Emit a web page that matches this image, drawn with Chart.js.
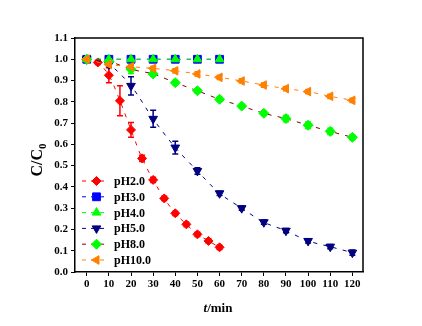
<!DOCTYPE html>
<html lang="en">
<head>
<meta charset="UTF-8">
<title>C/C0 vs time</title>
<script src="https://cdn.jsdelivr.net/npm/chart.js@4.4.0/dist/chart.umd.min.js"></script>
<style>
  html, body { margin: 0; padding: 0; background: #fff; }
  #wrap { width: 422px; height: 326px; }
</style>
</head>
<body>
<div id="wrap"><canvas id="chart" width="422" height="326"></canvas></div>
<script>
// data
var timeA = [0, 5, 10, 15, 20, 25, 30, 35, 40, 45, 50, 55, 60];
var timeB = [0, 10, 20, 30, 40, 50, 60];
var timeC = [0, 10, 20, 30, 40, 50, 60, 70, 80, 90, 100, 110, 120];

var ph2 = [1.0, 0.985, 0.925, 0.805, 0.668, 0.534, 0.433, 0.346, 0.276, 0.224, 0.177, 0.146, 0.116];
var ph2Err = [0.005, 0.01, 0.035, 0.07, 0.035, 0.015, 0.012, 0.01, 0.01, 0.01, 0.01, 0.01, 0.01];
var ph3 = [1.0, 1.0, 1.0, 1.0, 1.0, 1.0, 1.0];
var ph3Err = [0.005, 0.005, 0.005, 0.005, 0.005, 0.005, 0.005];
var ph4 = [1.0, 1.0, 1.0, 1.0, 1.0, 1.0, 1.0];
var ph4Err = [0.005, 0.005, 0.01, 0.005, 0.005, 0.005, 0.005];
var ph5 = [1.0, 0.975, 0.875, 0.72, 0.585, 0.475, 0.37, 0.30, 0.234, 0.194, 0.146, 0.119, 0.091];
var ph5Err = [0.005, 0.01, 0.043, 0.04, 0.03, 0.015, 0.01, 0.01, 0.01, 0.01, 0.01, 0.01, 0.012];
var ph8 = [1.0, 0.99, 0.953, 0.931, 0.89, 0.852, 0.812, 0.78, 0.746, 0.721, 0.69, 0.661, 0.633];
var ph8Err = [0.005, 0.01, 0.02, 0.01, 0.01, 0.01, 0.01, 0.01, 0.01, 0.015, 0.015, 0.015, 0.012];
var ph10 = [1.0, 0.976, 0.965, 0.957, 0.946, 0.931, 0.915, 0.898, 0.879, 0.862, 0.848, 0.826, 0.807];
var ph10Err = [0.005, 0.01, 0.01, 0.01, 0.01, 0.01, 0.01, 0.01, 0.01, 0.01, 0.01, 0.01, 0.01];

var seriesNames = ['pH2.0', 'pH3.0', 'pH4.0', 'pH5.0', 'pH8.0', 'pH10.0'];
var xTicks = [0, 10, 20, 30, 40, 50, 60, 70, 80, 90, 100, 110, 120];
var yTicks = [0, 0.1, 0.2, 0.3, 0.4, 0.5, 0.6, 0.7, 0.8, 0.9, 1.0, 1.1];

var FONT = "'Liberation Serif', 'Times New Roman', serif";

function pts(xs, ys) {
    var out = [];
    for (var i = 0; i < xs.length; i++) out.push({ x: xs[i], y: ys[i] });
    return out;
}

// [name, x, y, err, lineColor, markerColor, style, rotation, radius]
var defs = [
    [seriesNames[0], timeA, ph2, ph2Err, '#FF0000', '#FF0000', 'rectRot', 0, 4.5],
    [seriesNames[1], timeB, ph3, ph3Err, '#0000FF', '#0000FF', 'rect', 0, 5.5],
    [seriesNames[2], timeB, ph4, ph4Err, '#00FF00', '#00FF00', 'triangle', 0, 5],
    [seriesNames[3], timeC, ph5, ph5Err, '#000080', '#000080', 'triangle', 180, 5],
    [seriesNames[4], timeC, ph8, ph8Err, '#800000', '#00FF00', 'rectRot', 0, 5],
    [seriesNames[5], timeC, ph10, ph10Err, '#FF8000', '#FF8000', 'triangle', 270, 5]
];

var datasets = defs.map(function (d, i) {
    return {
        label: d[0],
        data: pts(d[1], d[2]),
        errors: d[3],
        borderColor: d[4],
        borderWidth: 1,
        borderDash: [4, 6],
        backgroundColor: d[5],
        pointBackgroundColor: d[5],
        pointBorderColor: d[5],
        pointBorderWidth: 1,
        pointStyle: d[6],
        pointRotation: d[7],
        pointRadius: d[8],
        tension: 0.3,
        order: 6 - i
    };
});

// error bars, frame, axis titles and legend
var extras = {
    id: 'extras',
    beforeDatasetsDraw: function (chart) {
        var ctx = chart.ctx, xs = chart.scales.x, ys = chart.scales.y;
        ctx.save();
        chart.data.datasets.forEach(function (ds) {
            ctx.strokeStyle = ds.pointBackgroundColor;
            ctx.lineWidth = 1.5;
            ds.data.forEach(function (p, j) {
                var e = ds.errors[j];
                var px = xs.getPixelForValue(p.x);
                var y1 = ys.getPixelForValue(p.y + e);
                var y2 = ys.getPixelForValue(p.y - e);
                ctx.beginPath();
                ctx.moveTo(px, y1); ctx.lineTo(px, y2);
                ctx.moveTo(px - 3, y1); ctx.lineTo(px + 3, y1);
                ctx.moveTo(px - 3, y2); ctx.lineTo(px + 3, y2);
                ctx.stroke();
            });
        });
        ctx.restore();
    },
    afterDraw: function (chart) {
        var ctx = chart.ctx, a = chart.chartArea;
        ctx.save();
        // top and right frame
        ctx.strokeStyle = '#000';
        ctx.lineWidth = 1.5;
        ctx.beginPath();
        ctx.moveTo(a.left, a.top); ctx.lineTo(a.right, a.top); ctx.lineTo(a.right, a.bottom);
        ctx.stroke();

        // y title C/C0
        ctx.fillStyle = '#000';
        ctx.translate(38, 160);
        ctx.rotate(-Math.PI / 2);
        ctx.font = 'bold 16px ' + FONT;
        ctx.textBaseline = 'middle';
        var w1 = ctx.measureText('C/C').width;
        ctx.font = 'bold 11px ' + FONT;
        var w2 = ctx.measureText('0').width;
        ctx.font = 'bold 16px ' + FONT;
        ctx.textAlign = 'left';
        ctx.fillText('C/C', -(w1 + w2) / 2, 0);
        ctx.font = 'bold 11px ' + FONT;
        ctx.fillText('0', -(w1 + w2) / 2 + w1, 5);
        ctx.setTransform(1, 0, 0, 1, 0, 0);

        // x title t/min
        ctx.textBaseline = 'middle';
        ctx.font = 'italic bold 13px ' + FONT;
        var wt = ctx.measureText('t').width;
        ctx.font = 'bold 13px ' + FONT;
        var wm = ctx.measureText('/min').width;
        var sx = 218 - (wt + wm) / 2;
        ctx.font = 'italic bold 13px ' + FONT;
        ctx.fillText('t', sx, 309);
        ctx.font = 'bold 13px ' + FONT;
        ctx.fillText('/min', sx + wt, 309);

        // legend
        var y0 = 181, step = 15.8;
        chart.data.datasets.forEach(function (ds, i) {
            var yy = y0 + i * step;
            ctx.strokeStyle = ds.borderColor;
            ctx.lineWidth = 1;
            ctx.setLineDash([4, 5]);
            ctx.beginPath();
            ctx.moveTo(82, yy); ctx.lineTo(106, yy);
            ctx.stroke();
            ctx.setLineDash([]);
            ctx.fillStyle = ds.pointBackgroundColor;
            ctx.strokeStyle = ds.pointBackgroundColor;
            Chart.helpers.drawPoint(ctx, {
                pointStyle: ds.pointStyle,
                rotation: ds.pointRotation,
                radius: ds.pointRadius,
                borderWidth: 1
            }, 96.5, yy);
            ctx.fillStyle = '#000';
            ctx.font = 'bold 12px ' + FONT;
            ctx.textAlign = 'left';
            ctx.fillText(ds.label, 114, yy + 1);
        });
        ctx.restore();
    }
};

new Chart(document.getElementById('chart').getContext('2d'), {
    type: 'line',
    data: { datasets: datasets },
    options: {
        responsive: false,
        animation: false,
        devicePixelRatio: 1,
        layout: { padding: { left: 0, top: 38, right: 59, bottom: 0 } },
        plugins: { legend: { display: false }, tooltip: { enabled: false } },
        scales: {
            x: {
                type: 'linear',
                min: -5.3,
                max: 124.8,
                afterFit: function (s) { s.height = 54; },
                afterBuildTicks: function (s) {
                    s.ticks = xTicks.map(function (v) { return { value: v }; });
                },
                border: { display: true, color: '#000', width: 1.5 },
                grid: { display: true, drawOnChartArea: false, drawTicks: true, tickLength: 4, color: '#000', lineWidth: 1 },
                ticks: {
                    color: '#000',
                    padding: 2,
                    maxRotation: 0,
                    autoSkip: false,
                    font: { family: FONT, size: 11, weight: 'bold' }
                }
            },
            y: {
                min: 0,
                max: 1.1,
                afterFit: function (s) { s.width = 75; },
                afterBuildTicks: function (s) {
                    s.ticks = yTicks.map(function (v) { return { value: v }; });
                },
                border: { display: true, color: '#000', width: 1.5 },
                grid: { display: true, drawOnChartArea: false, drawTicks: true, tickLength: 4, color: '#000', lineWidth: 1 },
                ticks: {
                    color: '#000',
                    padding: 3,
                    autoSkip: false,
                    font: { family: FONT, size: 11, weight: 'bold' },
                    callback: function (v) { return Number(v).toFixed(1); }
                }
            }
        }
    },
    plugins: [extras]
});
</script>
</body>
</html>
